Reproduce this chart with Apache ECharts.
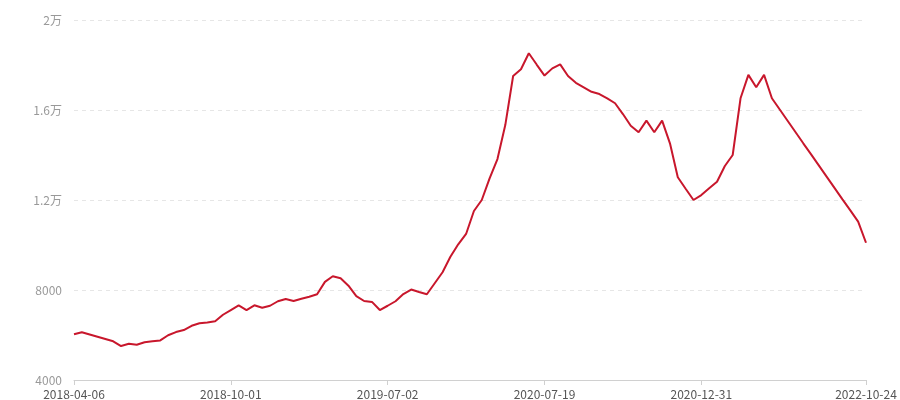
<!DOCTYPE html>
<html>
<head>
<meta charset="utf-8">
<script src="https://cdn.jsdelivr.net/npm/echarts@6/dist/echarts.min.js"></script>
<style>html,body{margin:0;padding:0;background:#fff}#c{width:900px;height:400px}</style>
</head>
<body>
<div id="c"></div>
<script>
const dates = [
'2018-04-06','2018-04-15','2018-04-24','2018-05-03','2018-05-12','2018-05-21','2018-05-30','2018-06-08','2018-06-17','2018-06-26',
'2018-07-05','2018-07-14','2018-07-23','2018-08-01','2018-08-10','2018-08-19','2018-08-28','2018-09-06','2018-09-15','2018-09-24',
'2018-10-01','2018-10-15','2018-10-29','2018-11-12','2018-11-26','2018-12-10','2018-12-24','2019-01-07','2019-01-21','2019-02-04',
'2019-02-18','2019-03-04','2019-03-18','2019-04-01','2019-04-15','2019-04-29','2019-05-13','2019-05-27','2019-06-10','2019-06-20',
'2019-07-02','2019-07-21','2019-08-09','2019-08-28','2019-09-16','2019-10-05','2019-10-24','2019-11-12','2019-12-01','2019-12-20',
'2020-01-08','2020-01-27','2020-02-15','2020-03-05','2020-03-24','2020-04-12','2020-05-01','2020-05-20','2020-06-08','2020-06-27',
'2020-07-19','2020-07-27','2020-08-04','2020-08-12','2020-08-20','2020-08-28','2020-09-05','2020-09-13','2020-09-21','2020-09-29',
'2020-10-07','2020-10-15','2020-10-23','2020-10-31','2020-11-08','2020-11-16','2020-11-24','2020-12-02','2020-12-10','2020-12-18',
'2020-12-31','2021-01-31','2021-03-03','2021-04-03','2021-05-04','2021-06-04','2021-07-05','2021-08-05','2021-09-05','2021-10-06',
'2021-11-06','2021-12-07','2022-01-07','2022-02-07','2022-03-10','2022-04-10','2022-05-11','2022-06-11','2022-07-12','2022-08-12',
'2022-09-12','2022-10-24'
];
const values = [
6030,6120,6020,5920,5820,5720,5510,5610,5570,5680,
5720,5760,5990,6130,6220,6410,6520,6560,6610,6900,
7110,7320,7110,7320,7210,7300,7500,7600,7510,7610,
7700,7810,8360,8610,8520,8190,7730,7510,7470,7110,
7300,7500,7820,8020,7910,7810,8300,8790,9480,10030,
10490,11510,12000,12960,13820,15330,17510,17810,18520,18020,
17530,17850,18030,17510,17210,17010,16810,16710,16520,16300,
15820,15300,15010,15530,15010,15530,14520,13010,12500,12000,
12220,12520,12810,13510,14000,16520,17560,17010,17560,16520,
16020,15520,15020,14520,14030,13530,13030,12530,12030,11540,
11040,10100
];
const yTicks = {min: 4000, max: 20000, step: 4000};
const labelIdx = [0, 20, 40, 60, 80, 101];

const chart = echarts.init(document.getElementById('c'), null, {renderer: 'canvas'});
const showIdx = (i) => labelIdx.indexOf(i) >= 0;
chart.setOption({
  animation: false,
  grid: {left: 74, right: 34, top: 20, bottom: 20, containLabel: false},
  xAxis: {
    type: 'category',
    data: dates,
    boundaryGap: false,
    axisLine: {lineStyle: {color: '#d0d0d0', width: 1}},
    axisTick: {show: true, interval: showIdx, length: 5, lineStyle: {color: '#d0d0d0'}},
    axisLabel: {interval: showIdx, color: '#555', fontSize: 12, margin: 8,
      fontFamily: '"Noto Sans CJK SC", "Noto Sans", sans-serif'},
    splitLine: {show: false}
  },
  yAxis: {
    type: 'value',
    min: yTicks.min, max: yTicks.max, interval: yTicks.step,
    axisLine: {show: false},
    axisTick: {show: false},
    axisLabel: {
      color: '#999', fontSize: 12, margin: 12,
      fontFamily: '"Noto Sans CJK SC", "Noto Sans", sans-serif',
      formatter: (v) => v >= 10000 ? (v / 10000) + '万' : String(v)
    },
    splitLine: {lineStyle: {color: '#e6e6e6', type: [4, 4], width: 1}}
  },
  series: [{
    type: 'line',
    data: values,
    showSymbol: false,
    symbol: 'none',
    lineStyle: {color: '#c8172c', width: 2},
    itemStyle: {color: '#c8172c'}
  }]
});
</script>
</body>
</html>
